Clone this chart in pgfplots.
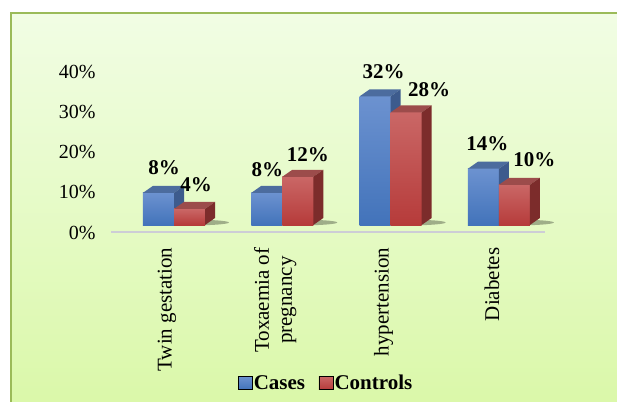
\documentclass[border=0pt]{standalone}
\usepackage{fontspec}
\setmainfont{Liberation Serif}
\usepackage{pgfplots}
\usepackage{pgfplotstable}
\pgfplotsset{compat=1.18}
\definecolor{caseT}{HTML}{6C92D0}
\definecolor{caseB}{HTML}{4273BA}
\definecolor{caseTop}{HTML}{4C6C9E}
\definecolor{caseSide}{HTML}{3D5B8D}
\definecolor{ctrlT}{HTML}{CA6766}
\definecolor{ctrlB}{HTML}{B63B3A}
\definecolor{ctrlTop}{HTML}{9C4C4B}
\definecolor{ctrlSide}{HTML}{7C2C2B}
\definecolor{bgT}{HTML}{F1FDE4}
\definecolor{bgB}{HTML}{DAF8A8}
\definecolor{frame}{HTML}{9BBB59}
\definecolor{axisgray}{HTML}{CDCDD6}

\pgfdeclareverticalshading{caseShade}{100bp}{color(0bp)=(caseB); color(25bp)=(caseB); color(75bp)=(caseT); color(100bp)=(caseT)}
\pgfdeclareverticalshading{ctrlShade}{100bp}{color(0bp)=(ctrlB); color(25bp)=(ctrlB); color(75bp)=(ctrlT); color(100bp)=(ctrlT)}

% #1 name, #2 offset, #3 top colour, #4 side colour, #5 front shading
\newcommand\defboxmark[5]{%
 \pgfdeclareplotmark{#1}{%
  \pgfpathrectangle{\pgfpoint{#2pt-15.5pt}{0pt-\hh pt}}{\pgfpoint{31pt}{\hh pt}}%
  \pgfshadepath{#5}{0}%
  \pgfusepath{discard}%
  \pgfpathmoveto{\pgfpoint{#2pt-15.5pt}{0pt}}%
  \pgfpathlineto{\pgfpoint{#2pt+15.5pt}{0pt}}%
  \pgfpathlineto{\pgfpoint{#2pt+25.5pt}{7pt}}%
  \pgfpathlineto{\pgfpoint{#2pt-5.5pt}{7pt}}%
  \pgfpathclose
  \pgfsetfillcolor{#3}\pgfusepath{fill}%
  \pgfpathmoveto{\pgfpoint{#2pt+15.5pt}{0pt}}%
  \pgfpathlineto{\pgfpoint{#2pt+25.5pt}{7pt}}%
  \pgfpathlineto{\pgfpoint{#2pt+25.5pt}{7pt-\hh pt}}%
  \pgfpathlineto{\pgfpoint{#2pt+15.5pt}{0pt-\hh pt}}%
  \pgfpathclose
  \pgfsetfillcolor{#4}\pgfusepath{fill}%
 }}
\defboxmark{caseBox}{-15.5}{caseTop}{caseSide}{caseShade}
\defboxmark{ctrlBox}{15.5}{ctrlTop}{ctrlSide}{ctrlShade}
\pgfdeclareplotmark{groupShadow}{%
  \pgfpathellipse{\pgfpoint{13pt}{2.5pt}}{\pgfpoint{42pt}{0pt}}{\pgfpoint{0pt}{3pt}}%
  \pgfsetfillcolor{black}\pgfsetfillopacity{0.3}\pgfusepath{fill}%
}

\pgfplotstableread{
x y dx dy
0 8 -10 25
1 8 -15 23.5
2 32 -7 25
3 14 -11.5 25
}\casesdata
\pgfplotstableread{
x y dx dy
0 4 22 24
1 12 25.5 22
2 28 38.5 23
3 10 35.5 25
}\ctrldata

\begin{document}
\begin{tikzpicture}
\useasboundingbox (0,0) rectangle (617pt,401pt);
\fill[top color=bgT, bottom color=bgB] (10.5pt,-10pt) rectangle (630pt,387.5pt);
\draw[draw=frame, line width=2pt] (10.5pt,-10pt) rectangle (630pt,387.5pt);
\begin{axis}[
  x=108.3pt, y=4.02pt,
  xmin=-0.5817, xmax=3.4257, ymin=-1.74, ymax=40,
  anchor=south west, at={(111pt,169pt)},
  clip=false,
  axis x line*=bottom, axis y line*=left,
  x axis line style={draw=axisgray, line width=2pt, -},
  y axis line style={draw=none},
  xtick={0,1,2,3},
  xticklabels={Twin gestation,{Toxaemia of\\pregnancy},hypertension,Diabetes},
  ytick={0,10,20,30,40},
  yticklabel={\pgfmathparse{int(\tick)}\pgfmathresult\%},
  major tick length=0pt, tick style={draw=none},
  yticklabel style={font=\fontsize{20}{22}\selectfont, anchor=east, xshift=-12pt, yshift=-7.5pt},
  xticklabel style={font=\fontsize{21}{23}\selectfont, xshift=-7pt, yshift=-12pt, rotate=90, anchor=east, align=center},
  legend style={at={(0.495,-0.9)}, anchor=center, draw=none, fill=none,
    legend columns=2, font=\bfseries\fontsize{21}{23}\selectfont,
    /tikz/every even column/.append style={column sep=12pt},
    nodes={inner sep=1.5pt}},
  nodes near coords style={font=\bfseries\fontsize{21}{23}\selectfont, anchor=center,
    /pgf/number format/assume math mode=true},
]
\addlegendimage{legend image code/.code={\fill[top color=caseT,bottom color=caseB] (0pt,-6.5pt) rectangle (14pt,6.5pt);}}
\addlegendentry{Cases}
\addlegendimage{legend image code/.code={\fill[top color=ctrlT,bottom color=ctrlB] (0pt,-6.5pt) rectangle (14pt,6.5pt);}}
\addlegendentry{Controls}

% shadows under groups
\addplot[forget plot, only marks, mark=groupShadow] table[x=x, y expr=0] {\casesdata};

% cases boxes (front, top and side faces)
\addplot[forget plot, scatter, only marks, mark=caseBox,
  scatter/@pre marker code/.code={}, scatter/@post marker code/.code={},
  visualization depends on={\thisrow{y}*4.02\as\hh}] table[x=x,y=y] {\casesdata};
% controls boxes
\addplot[forget plot, scatter, only marks, mark=ctrlBox,
  scatter/@pre marker code/.code={}, scatter/@post marker code/.code={},
  visualization depends on={\thisrow{y}*4.02\as\hh}] table[x=x,y=y] {\ctrldata};

% value labels
\addplot[forget plot, ybar, bar width=31pt, draw=none, fill=none,
  visualization depends on={\thisrow{dx}\as\dx},
  visualization depends on={\thisrow{dy}\as\dy},
  nodes near coords={\pgfmathprintnumber{\pgfplotspointmeta}\%},
  nodes near coords style={xshift=\dx pt, yshift=\dy pt}] table[x=x,y=y] {\casesdata};
\addplot[forget plot, ybar, bar width=31pt, draw=none, fill=none,
  visualization depends on={\thisrow{dx}\as\dx},
  visualization depends on={\thisrow{dy}\as\dy},
  nodes near coords={\pgfmathprintnumber{\pgfplotspointmeta}\%},
  nodes near coords style={xshift=\dx pt, yshift=\dy pt}] table[x=x,y=y] {\ctrldata};
\end{axis}
\end{tikzpicture}
\end{document}
